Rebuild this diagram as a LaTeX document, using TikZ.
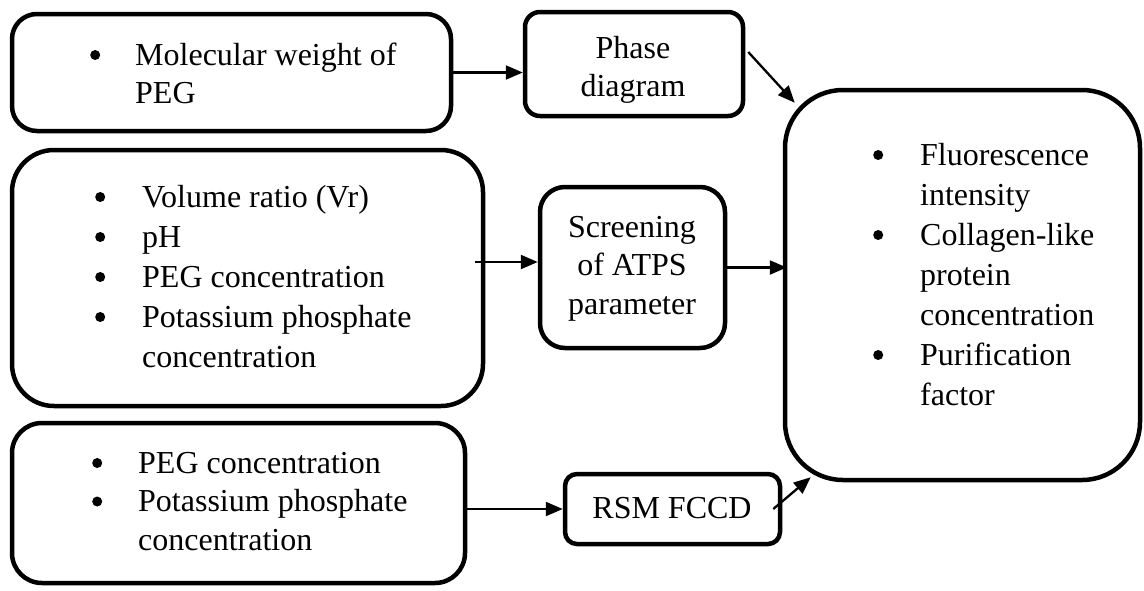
\documentclass[tikz,border=0pt]{standalone}
\usepackage{fontspec}
\setmainfont{Liberation Serif}
\usetikzlibrary{arrows.meta}
% round list bullet followed by the hanging indent
\newcommand{\bl}[1]{\makebox[#1][l]{\tikz[baseline=-10pt]\fill (0,0) circle (5pt);}}
\begin{document}
\begin{tikzpicture}[x=1pt,y=-1pt,
  box/.style={draw,line width=4.5pt,inner sep=0pt},
  lbl/.style={inner sep=0pt,font=\fontsize{32}{38.5}\selectfont},
  lblw/.style={inner sep=0pt,font=\fontsize{32}{40}\selectfont},
  arr/.style={line width=2.3pt,-{Triangle[length=17pt,width=14pt]}}]
\useasboundingbox (0,0) rectangle (1144,590);

% boxes
\node[box,minimum width=439pt,minimum height=117pt,rounded corners=25pt] (mw) at (231.5,72.5) {};
\node[box,minimum width=218pt,minimum height=104pt,rounded corners=15pt] (phase) at (634,64) {};
\node[box,minimum width=471pt,minimum height=256pt,rounded corners=42pt] (vr) at (247.5,278) {};
\node[box,minimum width=185pt,minimum height=161pt,rounded corners=25pt] (screen) at (632.5,267.5) {};
\node[box,minimum width=355pt,minimum height=390pt,rounded corners=58pt] (out) at (962.5,285) {};
\node[box,minimum width=453pt,minimum height=160pt,rounded corners=30pt] (b3) at (238.5,503) {};
\node[box,minimum width=215pt,minimum height=70pt,rounded corners=12pt] (rsm) at (672.5,509) {};

% texts
\node[lbl,anchor=base west] (tmw) at (90,65) {\begin{tabular}[t]{@{}l@{}l@{}}
\bl{45pt} & Molecular weight of\\ & PEG\end{tabular}};
\node[lblw,anchor=base west] (tvr) at (95,207) {\begin{tabular}[t]{@{}l@{}l@{}}
\bl{47pt} & Volume ratio (Vr)\\
\bl{47pt} & pH\\
\bl{47pt} & PEG concentration\\
\bl{47pt} & Potassium phosphate\\
 & concentration\end{tabular}};
\node[lbl,anchor=base west] (tb3) at (92,473) {\begin{tabular}[t]{@{}l@{}l@{}}
\bl{46pt} & PEG concentration\\
\bl{46pt} & Potassium phosphate\\
 & concentration\end{tabular}};
\node[lblw,anchor=base west] (tout) at (873,165) {\begin{tabular}[t]{@{}l@{}l@{}}
\bl{47pt} & Fluorescence\\ & intensity\\
\bl{47pt} & Collagen-like\\ & protein\\ & concentration\\
\bl{47pt} & Purification\\ & factor\end{tabular}};
\node[lbl,anchor=base] (tphase) at (633,58) {\begin{tabular}[t]{@{}c@{}}Phase\\diagram\end{tabular}};
\node[lbl,anchor=base] (tscreen) at (632,237) {\begin{tabular}[t]{@{}c@{}}Screening\\of ATPS\\parameter\end{tabular}};
\node[lbl,anchor=base] (trsm) at (672,518) {RSM FCCD};

% connectors
\coordinate (pstart) at ([shift={(3pt,12pt)}]phase.east);
\coordinate (ptip) at ([shift={(12pt,-15pt)}]out.north west);
\coordinate (vstart) at ([shift={(-10pt,16pt)}]vr.east);
\coordinate (rstart) at ([xshift=-9pt]rsm.east);
\coordinate (rtip) at ([shift={(28pt,5pt)}]out.south west);

\draw[arr] (mw.east) -- (mw.east -| phase.west);
\draw[arr] (pstart) -- (ptip);
\draw[arr] (vstart) -- (vstart -| screen.west);
\draw[arr] (screen.east) -- ([xshift=4pt]screen.east -| out.west);
\draw[arr] (b3.east |- rsm.west) -- (rsm.west);
\draw[arr] (rstart) -- (rtip);
\end{tikzpicture}
\end{document}
